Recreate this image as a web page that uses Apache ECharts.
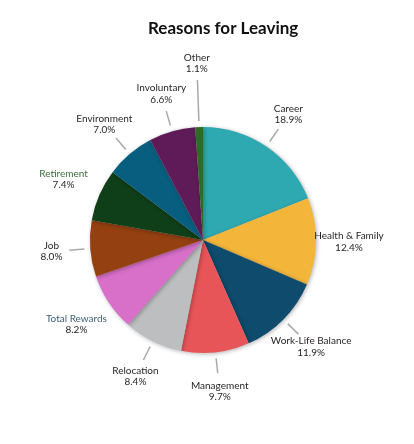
<!DOCTYPE html>
<html><head><meta charset="utf-8">
<script src="https://cdn.jsdelivr.net/npm/echarts@6/dist/echarts.min.js"></script>
<style>html,body{margin:0;padding:0;background:#fff}#c{width:414px;height:444px}</style>
</head><body><div id="c"></div>
<script>
const categories = ['Career','Health & Family','Work-Life Balance','Management','Relocation','Total Rewards','Job','Retirement','Environment','Involuntary','Other'];
const shares = [18.9, 12.4, 11.9, 9.7, 8.4, 8.2, 8.0, 7.4, 7.0, 6.6, 1.1];
const sliceColors = ['#2fa9b1','#f3b63a','#0e4b6d','#e85558','#bcbec0','#d86fc9','#954011','#0f3f18','#075e7f','#5f1b57','#2f6a28'];

// label styling (not data)
const nameStyleByName = {'Retirement':'green','Total Rewards':'blue'};
const hiddenLine = new Set(['Health & Family','Retirement','Total Rewards']);
const textDistByName = {'Other':64,'Health & Family':33};
const lineEndByName = {'Other':47};

const chart = echarts.init(document.getElementById('c'), null, {renderer:'canvas'});
chart.setOption({
  backgroundColor:'#fff',
  title:{
    text:'Reasons for Leaving', left:148, top:20, padding:0,
    textStyle:{fontFamily:'Lato', fontWeight:'bold', fontSize:17, color:'#111'}
  },
  series:[{
    type:'pie',
    center:[203,240], radius:113,
    startAngle:90, clockwise:true,
    avoidLabelOverlap:false,
    silent:true,
    data: categories.map((n,i)=>({name:n, value:shares[i], itemStyle:{color:sliceColors[i]}})),
    itemStyle:{borderWidth:0, shadowBlur:4, shadowColor:'rgba(0,0,0,0.3)', shadowOffsetX:1, shadowOffsetY:1},
    label:{show:true, position:'outside', fontFamily:'Lato', fontSize:10, lineHeight:11.5, color:'#231f20',
      formatter: p => '{' + (nameStyleByName[p.name] || 'n') + '|' + p.name + '}\n{n|' + p.value.toFixed(1) + '%}',
      rich:{
        n:{color:'#231f20', fontFamily:'Lato', fontSize:10, lineHeight:11.5},
        green:{color:'#3d6b3b', fontFamily:'Lato', fontSize:10, lineHeight:11.5},
        blue:{color:'#3f5d7a', fontFamily:'Lato', fontSize:10, lineHeight:11.5}
      }},
    labelLine:{show:true, length:20, length2:0, smooth:false, lineStyle:{color:'#a7a9ac', width:1.5}},
    labelLayout: function(params){
      const pts = params.labelLinePoints;
      if(!pts) return {};
      const p0 = pts[0], p1 = pts[1];
      let dx = p1[0]-p0[0], dy = p1[1]-p0[1];
      const len = Math.sqrt(dx*dx+dy*dy) || 1;
      dx/=len; dy/=len;
      const name = categories[params.dataIndex];
      const td = textDistByName[name] != null ? textDistByName[name] : 39;
      const le = lineEndByName[name] != null ? lineEndByName[name] : 21;
      const tx = p0[0]+dx*td, ty = p0[1]+dy*td;
      let line;
      if(hiddenLine.has(name)){
        line = [[tx,ty],[tx,ty],[tx,ty]];
      } else {
        const a=[p0[0]+dx*6, p0[1]+dy*6], b=[p0[0]+dx*le, p0[1]+dy*le];
        line = [a,b,b];
      }
      return {x:tx, y:ty, align:'center', verticalAlign:'middle', labelLinePoints:line};
    }
  }]
});
</script></body></html>
